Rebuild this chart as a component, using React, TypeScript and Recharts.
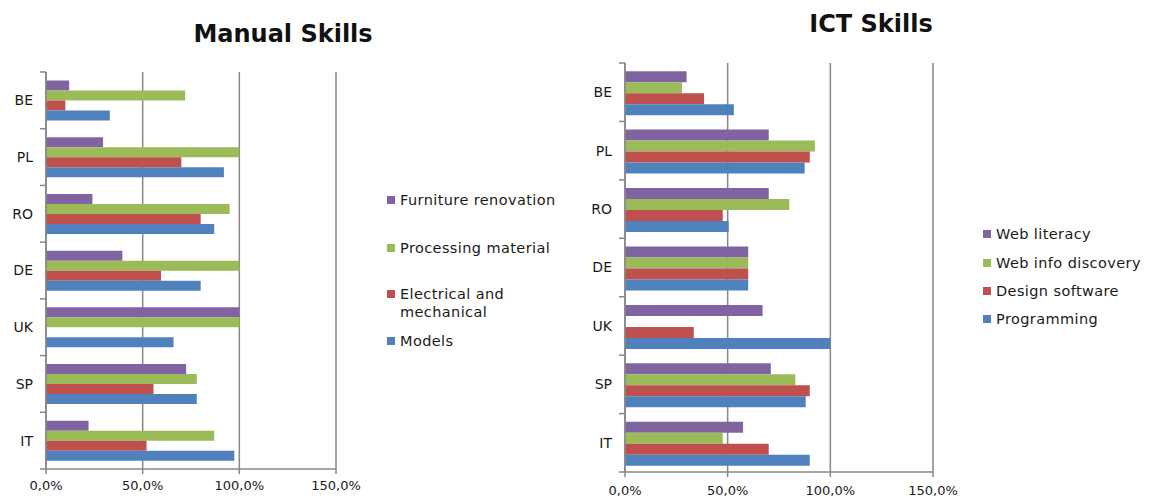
import React from "react";
import {
  BarChart,
  Bar,
  XAxis,
  YAxis,
  CartesianGrid,
} from "recharts";

const countries = ["BE", "PL", "RO", "DE", "UK", "SP", "IT"];

// Manual skills
const furnitureRenovation = [0.12, 0.295, 0.24, 0.395, 1.0, 0.725, 0.22];
const processingMaterial = [0.72, 1.0, 0.95, 1.0, 1.0, 0.78, 0.87];
const electricalMechanical = [0.1, 0.7, 0.8, 0.595, 0, 0.556, 0.52];
const models = [0.33, 0.92, 0.87, 0.8, 0.66, 0.78, 0.974];

// ICT skills
const webLiteracy = [0.3, 0.7, 0.7, 0.6, 0.67, 0.71, 0.575];
const webInfoDiscovery = [0.278, 0.925, 0.8, 0.6, 0, 0.83, 0.476];
const designSoftware = [0.385, 0.9, 0.476, 0.6, 0.335, 0.9, 0.7];
const programming = [0.53, 0.875, 0.505, 0.6, 1.0, 0.88, 0.9];

const xTicks = [0, 0.5, 1, 1.5];

const PURPLE = "#8064A2";
const GREEN = "#9BBB59";
const RED = "#C0504D";
const BLUE = "#4F81BD";
const GRID = "#878787";
const FONT = "'DejaVu Sans', sans-serif";

const manualData = countries.map((c, i) => ({
  country: c,
  furniture: furnitureRenovation[i],
  processing: processingMaterial[i],
  electrical: electricalMechanical[i],
  models: models[i],
}));

const ictData = countries.map((c, i) => ({
  country: c,
  literacy: webLiteracy[i],
  discovery: webInfoDiscovery[i],
  design: designSoftware[i],
  programming: programming[i],
}));

const pct = (v: number) => (v * 100).toFixed(1).replace(".", ",") + "%";

// y-axis tick: label at band centre, small tick mark at band boundaries (Excel style)
const makeCatTick = (band: number, gap: number) => (props: any) => {
  const { x, y, payload, index } = props;
  const ax = x + gap;
  return (
    <g>
      <line x1={ax - 6} x2={ax} y1={y - band / 2} y2={y - band / 2} stroke={GRID} strokeWidth={1.5} />
      {index === countries.length - 1 && (
        <line x1={ax - 6} x2={ax} y1={y + band / 2} y2={y + band / 2} stroke={GRID} strokeWidth={1.5} />
      )}
      <text x={x} y={y} dy="0.35em" textAnchor="end" fontSize={14} fontFamily={FONT} fill="#1a1a1a">
        {payload.value}
      </text>
    </g>
  );
};

const LegendBox = ({ items, style }: { items: { label: string[]; color: string; top: number }[]; style: React.CSSProperties }) => (
  <div style={{ position: "absolute", ...style }}>
    {items.map((it) => (
      <div
        key={it.label.join(" ")}
        style={{ position: "absolute", top: it.top, left: 0, display: "flex", alignItems: "flex-start", whiteSpace: "nowrap" }}
      >
        <span style={{ display: "inline-block", width: 8, height: 8, background: it.color, marginTop: 5, marginRight: 5 }} />
        <span style={{ fontFamily: FONT, fontSize: 14.5, letterSpacing: 0.4, color: "#1a1a1a", lineHeight: "18px" }}>
          {it.label.map((l) => (
            <div key={l}>{l}</div>
          ))}
        </span>
      </div>
    ))}
  </div>
);

const Title = ({ text, left, top }: { text: string; left: number; top: number }) => (
  <div
    style={{
      position: "absolute",
      left,
      top,
      width: 300,
      marginLeft: -150,
      textAlign: "center",
      fontFamily: FONT,
      fontWeight: "bold",
      fontSize: 24,
      color: "#111",
    }}
  >
    {text}
  </div>
);

export default function App() {
  const leftBand = (469 - 72) / 7;
  const rightBand = (472 - 63) / 7;
  return (
    <div style={{ position: "absolute", left: 0, top: 0, width: 1155, height: 500, background: "#fff" }}>
      <Title text="Manual Skills" left={283} top={20} />
      <Title text="ICT Skills" left={871} top={10} />

      <div style={{ position: "absolute", left: 0, top: 0 }}>
        <BarChart
          width={370}
          height={500}
          layout="vertical"
          data={manualData}
          margin={{ top: 72, right: 34, bottom: 0, left: 0 }}
          barCategoryGap="15%"
          barGap={0}
        >
          <CartesianGrid horizontal={false} stroke={GRID} strokeWidth={1.5} />
          <XAxis
            type="number"
            domain={[0, 1.5]}
            ticks={xTicks}
            tickFormatter={pct}
            height={31}
            stroke={GRID}
            strokeWidth={1.5}
            tickSize={5}
            tickMargin={7}
            tick={{ fontSize: 13, fontFamily: FONT, fill: "#1a1a1a" }}
          />
          <YAxis
            type="category"
            dataKey="country"
            width={46}
            stroke={GRID}
            strokeWidth={1.5}
            tickSize={0}
            tickMargin={13}
            tick={makeCatTick(leftBand, 13)}
          />
          <Bar dataKey="furniture" fill={PURPLE} isAnimationActive={false} />
          <Bar dataKey="processing" fill={GREEN} isAnimationActive={false} />
          <Bar dataKey="electrical" fill={RED} isAnimationActive={false} />
          <Bar dataKey="models" fill={BLUE} isAnimationActive={false} />
        </BarChart>
      </div>

      <LegendBox
        style={{ left: 387, top: 191 }}
        items={[
          { label: ["Furniture renovation"], color: PURPLE, top: 0 },
          { label: ["Processing material"], color: GREEN, top: 48 },
          { label: ["Electrical and", "mechanical"], color: RED, top: 94 },
          { label: ["Models"], color: BLUE, top: 141 },
        ]}
      />

      <div style={{ position: "absolute", left: 580, top: 0 }}>
        <BarChart
          width={400}
          height={500}
          layout="vertical"
          data={ictData}
          margin={{ top: 63, right: 47, bottom: 0, left: 0 }}
          barCategoryGap="14%"
          barGap={0}
        >
          <CartesianGrid horizontal={false} stroke={GRID} strokeWidth={1.5} />
          <XAxis
            type="number"
            domain={[0, 1.5]}
            ticks={xTicks}
            tickFormatter={pct}
            height={28}
            stroke={GRID}
            strokeWidth={1.5}
            tickSize={5}
            tickMargin={9}
            tick={{ fontSize: 13, fontFamily: FONT, fill: "#1a1a1a" }}
          />
          <YAxis
            type="category"
            dataKey="country"
            width={45}
            stroke={GRID}
            strokeWidth={1.5}
            tickSize={0}
            tickMargin={13}
            tick={makeCatTick(rightBand, 13)}
          />
          <Bar dataKey="literacy" fill={PURPLE} isAnimationActive={false} />
          <Bar dataKey="discovery" fill={GREEN} isAnimationActive={false} />
          <Bar dataKey="design" fill={RED} isAnimationActive={false} />
          <Bar dataKey="programming" fill={BLUE} isAnimationActive={false} />
        </BarChart>
      </div>

      <LegendBox
        style={{ left: 983, top: 225 }}
        items={[
          { label: ["Web literacy"], color: PURPLE, top: 0 },
          { label: ["Web info discovery"], color: GREEN, top: 29 },
          { label: ["Design software"], color: RED, top: 57 },
          { label: ["Programming"], color: BLUE, top: 85 },
        ]}
      />
    </div>
  );
}
